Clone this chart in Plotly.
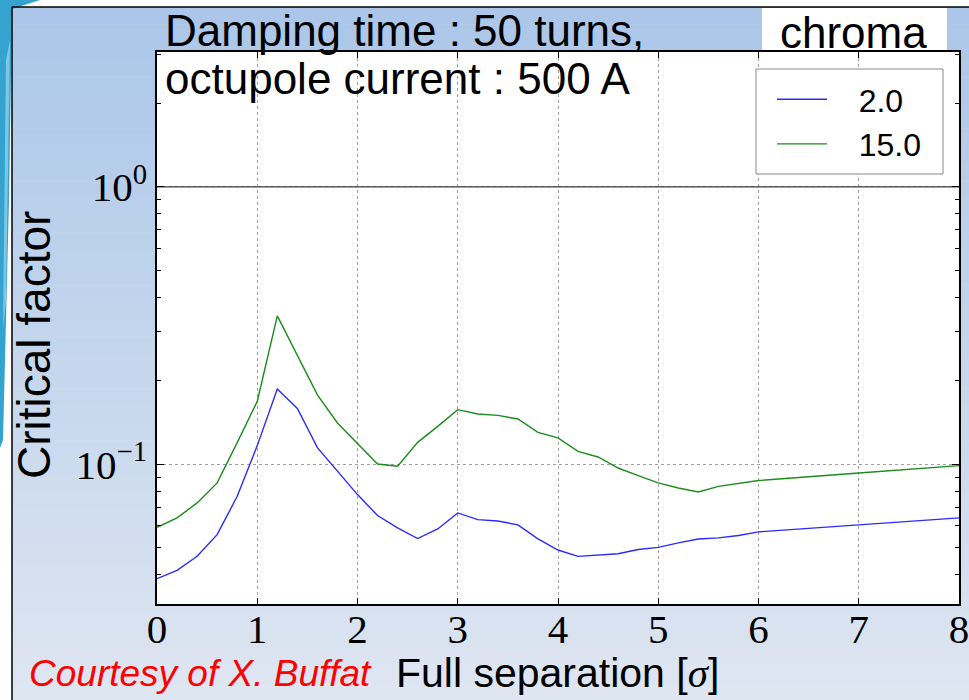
import plotly.graph_objects as go

# ---------------- data ----------------
separation = [0.0, 0.2, 0.4, 0.6, 0.8, 1.0, 1.2, 1.4, 1.6, 1.8, 2.0, 2.2, 2.4, 2.6, 2.8,
              3.0, 3.2, 3.4, 3.6, 3.8, 4.0, 4.2, 4.4, 4.6, 4.8, 5.0, 5.2, 5.4, 5.6, 5.8,
              6.0, 7.0, 8.0]
chroma_2 = [0.0387, 0.0415, 0.0466, 0.0558, 0.0767, 0.1168, 0.1868, 0.1590, 0.1149, 0.0944,
            0.0778, 0.0654, 0.0590, 0.0540, 0.0585, 0.0668, 0.0632, 0.0625, 0.0605, 0.0539,
            0.0491, 0.0466, 0.0470, 0.0476, 0.0493, 0.0502, 0.0521, 0.0538, 0.0543, 0.0554,
            0.0571, 0.0604, 0.0641]
chroma_15 = [0.0593, 0.0641, 0.0726, 0.0857, 0.1197, 0.1686, 0.3430, 0.2460, 0.1780, 0.1410,
             0.1194, 0.1003, 0.0984, 0.1200, 0.1370, 0.1574, 0.1519, 0.1501, 0.1457, 0.1303,
             0.1245, 0.1114, 0.1063, 0.0970, 0.0911, 0.0857, 0.0822, 0.0795, 0.0833, 0.0852,
             0.0874, 0.0931, 0.0989]
series_names = ["2.0", "15.0"]
x_ticks = [0, 1, 2, 3, 4, 5, 6, 7, 8]
y_ticks = [0.1, 1]
y_ticktext = ["10<sup>\u22121</sup>", "10<sup>0</sup>"]
y_minor = [0.04, 0.05, 0.06, 0.07, 0.08, 0.09, 0.2, 0.3, 0.4, 0.5, 0.6, 0.7, 0.8, 0.9, 2, 3]
threshold = [1, 1]
x_range = [0, 8]
y_log_range = [-1.5034, 0.4861]

# ---------------- layout helpers ----------------
W, H = 969, 700
ML, MR, MT, MB = 157, 10, 52, 96
PW, PH = W - ML - MR, H - MT - MB


def px(x):
    return (x - ML) / PW


def py(y):
    return (H - MB - y) / PH


pad = "\u00a0\u00a0\u00a0"

fig = go.Figure()
fig.add_trace(go.Scatter(x=x_range, y=threshold, mode="lines",
                         line=dict(color="#3a3a3a", width=1.3), showlegend=False,
                         hoverinfo="skip"))
fig.add_trace(go.Scatter(x=separation, y=chroma_2, mode="lines", name=pad + series_names[0],
                         line=dict(color="#2a2aff", width=1.4)))
fig.add_trace(go.Scatter(x=separation, y=chroma_15, mode="lines", name=pad + series_names[1],
                         line=dict(color="#1c8c1c", width=1.4)))

shapes = []
# slide gradient background
top_c = (170, 198, 232)
bot_c = (222, 230, 241)
n = 40
y0s, y1s = 7, H
for i in range(n):
    a = y0s + (y1s - y0s) * i / n
    b = y0s + (y1s - y0s) * (i + 1) / n
    t = (i + 0.5) / n
    c = tuple(int(round(top_c[k] + (bot_c[k] - top_c[k]) * t)) for k in range(3))
    shapes.append(dict(type="rect", xref="paper", yref="paper", layer="below",
                       x0=px(12), x1=px(W + 2), y0=py(b + 0.5), y1=py(a),
                       fillcolor="rgb(%d,%d,%d)" % c, line=dict(width=0)))
# white plot area
shapes.append(dict(type="rect", xref="paper", yref="paper", layer="below",
                   x0=0, x1=1, y0=0, y1=1, fillcolor="white", line=dict(width=0)))
# chroma box
shapes.append(dict(type="rect", xref="paper", yref="paper", layer="below",
                   x0=px(762), x1=px(947), y0=py(53), y1=py(8),
                   fillcolor="white", line=dict(width=0)))
# left decoration
path = "M %f,%f L %f,%f L %f,%f L %f,%f L %f,%f L %f,%f Z" % (
    px(0), py(0), px(40), py(0), px(12), py(9), px(9), py(200), px(3), py(440), px(0), py(448))
shapes.append(dict(type="path", xref="paper", yref="paper", layer="below", path=path,
                   fillcolor="#35a3cf", line=dict(width=0)))
path2 = "M %f,%f L %f,%f L %f,%f L %f,%f Z" % (
    px(6), py(60), px(10), py(40), px(6), py(300), px(3), py(330))
shapes.append(dict(type="path", xref="paper", yref="paper", layer="below", path=path2,
                   fillcolor="#7fc6e6", line=dict(width=0)))
# slide frame lines
shapes.append(dict(type="line", xref="paper", yref="paper", x0=px(12), x1=px(W + 2),
                   y0=py(7), y1=py(7), line=dict(color="black", width=1.5)))
shapes.append(dict(type="line", xref="paper", yref="paper", x0=px(12), x1=px(12),
                   y0=py(7), y1=py(H + 2), line=dict(color="black", width=1.5)))
# legend frame
shapes.append(dict(type="rect", xref="paper", yref="paper", layer="above",
                   x0=px(756), x1=px(943), y0=py(174), y1=py(69),
                   fillcolor="white", line=dict(color="#8a8a8a", width=1)))

sans = "Liberation Sans, Arial, sans-serif"
serif = "Liberation Serif, DejaVu Serif, serif"
ann = []
ann.append(dict(text="Damping time : 50 turns,", x=px(163), y=py(30), xanchor="left",
                yanchor="middle", font=dict(family=sans, size=44, color="black")))
ann.append(dict(text="octupole current : 500 A", x=px(163), y=py(78), xanchor="left",
                yanchor="middle", font=dict(family=sans, size=44, color="black")))
ann.append(dict(text="chroma", x=px(853), y=py(32), xanchor="center", yanchor="middle",
                font=dict(family=sans, size=44, color="black")))
ann.append(dict(text="Critical factor", x=px(34), y=py(345), xanchor="center",
                yanchor="middle", textangle=-90,
                font=dict(family=sans, size=46, color="black")))
ann.append(dict(text="Full separation [<span style=\"font-family:Liberation Serif\"><i>\u03c3</i></span>]",
                x=px(394), y=py(673), xanchor="left", yanchor="middle",
                font=dict(family=sans, size=41, color="black")))
ann.append(dict(text="<i>Courtesy of X. Buffat</i>", x=px(27), y=py(673), xanchor="left",
                yanchor="middle", font=dict(family=sans, size=37, color="#ff0000")))
for a in ann:
    a.update(xref="paper", yref="paper", showarrow=False)

fig.update_layout(
    width=W, height=H,
    margin=dict(l=ML, r=MR, t=MT, b=MB, autoexpand=False),
    paper_bgcolor="white",
    plot_bgcolor="rgba(0,0,0,0)",
    shapes=shapes,
    annotations=ann,
    showlegend=True,
    legend=dict(x=px(772), y=py(72), xanchor="left", yanchor="top",
                bgcolor="rgba(0,0,0,0)", borderwidth=0,
                font=dict(family=sans, size=32, color="black"),
                itemwidth=50),
    xaxis=dict(range=x_range, tickvals=x_ticks, ticktext=[str(v) for v in x_ticks],
               automargin=False, ticklabeloverflow="allow",
               showgrid=True, gridcolor="#a0a0a0", griddash="dot", gridwidth=1,
               zeroline=False, showline=True, linecolor="black", linewidth=1.5,
               mirror="ticks", ticks="inside", ticklen=6, tickcolor="black",
               ticklabelstandoff=-12,
               tickfont=dict(family=serif, size=41, color="black")),
    yaxis=dict(type="log", range=y_log_range, tickvals=y_ticks, ticktext=y_ticktext,
               automargin=False,
               showgrid=True, gridcolor="#a0a0a0", griddash="dot", gridwidth=1,
               zeroline=False, showline=True, linecolor="black", linewidth=1.5,
               mirror="ticks", ticks="inside", ticklen=7, tickcolor="black",
               tickfont=dict(family=serif, size=41, color="black"),
               minor=dict(tickvals=y_minor, ticks="inside", ticklen=4, tickcolor="black",
                          showgrid=False)),
)

fig.write_html("out.html")
